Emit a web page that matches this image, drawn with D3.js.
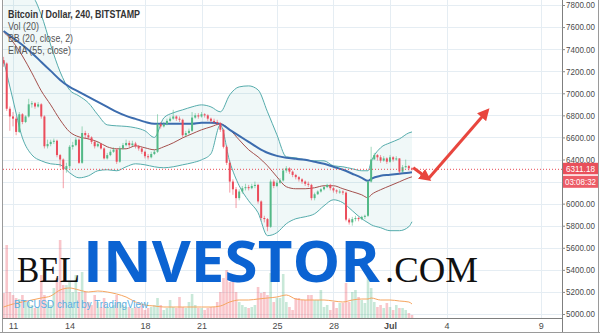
<!DOCTYPE html>
<html>
<head>
<meta charset="utf-8">
<script src="https://cdn.jsdelivr.net/npm/d3@7"></script>
<style>
  body { margin: 0; background: #fff; }
  svg { display: block; }
</style>
</head>
<body>
<script>
// 4h candles, Bitstamp BTC/USD, starting 10 Jun 12:00 UTC
var firstOpen = 7300;
var closes = [
  7270, 6860, 6790, 6770, 6650, 6810, 6740, 6790, 6900, 6910,
  6880, 6900, 6790, 6520, 6540, 6560, 6570, 6440, 6400, 6310,
  6340, 6515, 6530, 6580, 6370, 6640, 6620, 6600, 6560, 6520,
  6540, 6500, 6410, 6440, 6470, 6490, 6380, 6500, 6530, 6550,
  6530, 6545, 6520, 6500, 6470, 6430, 6420, 6450, 6470, 6720,
  6700, 6720, 6750, 6770, 6790, 6770, 6760, 6620, 6640, 6660,
  6780, 6800, 6790, 6810, 6800, 6770, 6750, 6740, 6730, 6670,
  6515, 6370, 6200, 6130, 6050, 6110, 6140, 6150, 6140, 6160,
  6170, 6020, 5870, 5860, 5790, 6200, 6160, 6190, 6210, 6300,
  6320, 6290, 6260, 6240, 6220, 6200, 6180, 6170, 6050, 6085,
  6110, 6130, 6150, 6170, 6140, 6120, 6110, 6110, 6100, 5855,
  5830, 5860, 5870, 5860, 5880, 5890, 6200, 6400, 6440, 6420,
  6390, 6410, 6380, 6420, 6400, 6410, 6290, 6330, 6340, 6320,
  6311.18
];
var highs = [
  7330, 7280, 6880, 6830, 6790, 6830, 6820, 6800, 6950, 6930,
  6920, 6920, 6910, 6800, 6580, 6580, 6590, 6580, 6450, 6410,
  6370, 6530, 6560, 6600, 6590, 6700, 6660, 6640, 6610, 6570,
  6560, 6550, 6510, 6460, 6490, 6510, 6500, 6520, 6550, 6580,
  6570, 6570, 6560, 6530, 6510, 6480, 6450, 6470, 6490, 6810,
  6740, 6740, 6770, 6790, 6850, 6800, 6790, 6770, 6660, 6680,
  6830, 6820, 6820, 6830, 6820, 6810, 6780, 6770, 6760, 6740,
  6680, 6530, 6390, 6220, 6150, 6130, 6160, 6180, 6170, 6180,
  6200, 6180, 6030, 5890, 5870, 6220, 6220, 6210, 6230, 6320,
  6340, 6330, 6300, 6270, 6250, 6230, 6210, 6200, 6180, 6100,
  6120, 6140, 6160, 6180, 6180, 6150, 6130, 6130, 6120, 6110,
  5870, 5880, 5890, 5880, 5890, 5900, 6210, 6515, 6460, 6450,
  6440, 6430, 6420, 6440, 6430, 6430, 6410, 6350, 6400, 6350,
  6330
];
var lows = [
  7240, 6840, 6660, 6700, 6620, 6640, 6720, 6730, 6780, 6870,
  6860, 6870, 6770, 6500, 6500, 6520, 6540, 6420, 6330, 6140,
  6280, 6320, 6490, 6520, 6360, 6360, 6590, 6580, 6540, 6500,
  6510, 6490, 6400, 6400, 6430, 6460, 6360, 6370, 6490, 6520,
  6510, 6520, 6500, 6480, 6450, 6410, 6400, 6410, 6440, 6460,
  6680, 6690, 6710, 6740, 6760, 6750, 6740, 6600, 6610, 6630,
  6650, 6770, 6770, 6780, 6780, 6750, 6730, 6720, 6710, 6650,
  6500, 6350, 6100, 6080, 5960, 6030, 6090, 6120, 6120, 6130,
  6140, 6000, 5850, 5830, 5750, 5780, 6140, 6150, 6180, 6200,
  6280, 6270, 6240, 6220, 6200, 6180, 6160, 6150, 6030, 6030,
  6080, 6100, 6120, 6140, 6120, 6100, 6090, 6090, 6080, 5840,
  5810, 5800, 5840, 5840, 5850, 5860, 5880, 6190, 6400, 6390,
  6370, 6380, 6360, 6370, 6380, 6390, 6270, 6280, 6320, 6300,
  6300
];
var volumes = [
  2500, 7300, 2600, 2300, 2000, 1900, 2300, 1600, 1600, 1300,
  1000, 1100, 4300, 2300, 1600, 1300, 3000, 4000, 7800, 3300,
  3300, 3600, 2600, 4300, 2600, 4600, 2600, 1600, 1300, 2300,
  1600, 1100, 2000, 1100, 1000, 1300, 2300, 1600, 1300, 1100,
  1100, 1000, 1100, 1000, 1300, 800, 1000, 1100, 1300, 2000,
  1300, 800, 1000, 1800, 1100, 1000, 2100, 1100, 1000, 1600,
  2400, 1300, 1000, 1000, 800, 1000, 1100, 1100, 1600, 2600,
  4000, 4800, 3600, 4200, 2600, 1600, 1300, 1100, 1000, 1100,
  1300, 3100, 2500, 2600, 2300, 4500, 1600, 2000, 2000, 4400,
  1600, 1100, 800, 2000, 2000, 1800, 1800, 2300, 2300, 1800,
  1800, 2800, 1100, 1300, 800, 1600, 1000, 1500, 1500, 3500,
  1600, 2600, 2800, 2100, 1800, 1500, 4100, 3000, 1600, 1100,
  1300, 1000, 1500, 1100, 800, 1300, 1000, 1000, 800, 500,
  300
];

// indicator readings, taken at these candle numbers
var bandIdx = [0, 3, 6, 9, 12, 15, 18, 21, 24, 27, 30, 33, 36, 39, 42, 45, 48, 51, 54, 57,
  60, 63, 66, 69, 72, 75, 78, 81, 84, 87, 90, 93, 96, 99, 102, 105, 108, 111, 114, 116,
  117, 120, 123, 126, 129, 130];
var bbUpper = [7880, 7900, 7900, 7880, 7710, 7438, 7194, 7031, 6976, 6913, 6805, 6714, 6705, 6700, 6687, 6660, 6600, 6777, 6823, 6850,
  6877, 6895, 6877, 6832, 6986, 7058, 7067, 7031, 6832, 6624, 6424, 6415, 6397, 6388, 6388, 6343, 6334, 6316, 6298, 6298,
  6379, 6506, 6551, 6587, 6641, 6650];
var bbMid = [7556, 7465, 7338, 7185, 7022, 6895, 6759, 6651, 6605, 6587, 6560, 6515, 6497, 6497, 6524, 6506, 6488, 6515, 6551, 6596,
  6633, 6669, 6696, 6723, 6669, 6578, 6488, 6424, 6343, 6243, 6153, 6135, 6135, 6144, 6162, 6162, 6135, 6108, 6080, 6053,
  6080, 6126, 6162, 6198, 6234, 6243];
var bbLower = [7302, 6940, 6596, 6442, 6388, 6361, 6352, 6280, 6234, 6252, 6298, 6307, 6298, 6334, 6361, 6352, 6334, 6325, 6334, 6352,
  6370, 6397, 6452, 6714, 6379, 6162, 6026, 5918, 5710, 5737, 5818, 5863, 5881, 5908, 5981, 6035, 6008, 5936, 5863, 5827,
  5809, 5782, 5755, 5755, 5791, 5836];
var ema55 = [7565, 7501, 7438, 7366, 7284, 7203, 7121, 7058, 7013, 6967, 6922, 6877, 6832, 6795, 6768, 6741, 6723, 6723, 6723, 6723,
  6723, 6732, 6732, 6723, 6669, 6614, 6560, 6506, 6461, 6433, 6415, 6406, 6397, 6379, 6361, 6334, 6307, 6271, 6234, 6207,
  6225, 6252, 6261, 6271, 6280, 6284];
var volMa = [1100, 1400, 1600, 1800, 2000, 2200, 2800, 3000, 2800, 2600, 2700, 2600, 2400, 2100, 1600, 1300, 1200, 1100, 1100, 1100,
  1100, 1100, 1100, 1200, 1600, 1800, 1800, 1900, 2000, 2100, 2300, 1900, 1800, 1800, 1800, 1700, 1600, 1800, 1900, 1900,
  2000, 1800, 1800, 1700, 1600, 1400];

var priceTicks = [5000, 5200, 5400, 5600, 5800, 6000, 6200, 6400, 6600, 6800, 7000, 7200, 7400, 7600, 7800];
var dateTicks = ["2018-06-11", "2018-06-14", "2018-06-18", "2018-06-21", "2018-06-25", "2018-06-28", "2018-07-01", "2018-07-04", "2018-07-09"];
var lastPrice = 6311.18;
var countdown = "03:08:32";

// hand-drawn arrow (candle number, price)
var arrowIdx = [130.4, 135.2, 153.9];
var arrowPrice = [6325, 6225, 6840];

var startTime = Date.UTC(2018, 5, 10, 12);
var barMs = 4 * 3600 * 1000;
function barTime(i) { return new Date(startTime + i * barMs); }

var plot = {left: 3, right: 562, top: 0, bottom: 318};
var upColor = "#53b987", downColor = "#eb4d5c";

var x = d3.scaleUtc()
    .domain([new Date(Date.UTC(2018, 5, 11)), new Date(Date.UTC(2018, 6, 1))])
    .range([13, 390]);

var y = d3.scaleLinear()
    .domain([5000, 7800])
    .range([314, 5]);

var yVol = d3.scaleLinear()
    .domain([0, 10000])
    .range([plot.bottom, plot.bottom - 100]);

var bars = closes.map(function(c, i) {
  var o = i === 0 ? firstOpen : closes[i - 1];
  return {
    t: barTime(i), o: o, c: c,
    h: Math.max(highs[i], o, c), l: Math.min(lows[i], o, c),
    v: volumes[i]
  };
});

var bands = bandIdx.map(function(b, k) {
  return {t: barTime(b), up: bbUpper[k], mid: bbMid[k], lo: bbLower[k], ema: ema55[k], vma: volMa[k]};
});

var svg = d3.select("body").append("svg")
    .attr("width", 600)
    .attr("height", 334)
    .style("font-family", "'Liberation Sans', Arial, sans-serif");

svg.append("rect").attr("width", 600).attr("height", 334).attr("fill", "#fff");

var defs = svg.append("defs");
defs.append("clipPath").attr("id", "clip").append("rect")
    .attr("x", plot.left).attr("y", plot.top)
    .attr("width", plot.right - plot.left).attr("height", plot.bottom - plot.top);

defs.append("marker")
    .attr("id", "head")
    .attr("viewBox", "0 0 10 10")
    .attr("refX", 7).attr("refY", 5)
    .attr("markerWidth", 4).attr("markerHeight", 4)
    .attr("orient", "auto")
  .append("path")
    .attr("d", "M0,0L10,5L0,10z")
    .attr("fill", "#e8463e");

var g = svg.append("g").attr("clip-path", "url(#clip)");

// grid
g.selectAll(".hgrid")
    .data(priceTicks)
  .enter().append("line")
    .attr("class", "hgrid")
    .attr("x1", plot.left).attr("x2", plot.right)
    .attr("y1", function(d) { return Math.round(y(d)) + 0.5; })
    .attr("y2", function(d) { return Math.round(y(d)) + 0.5; })
    .attr("stroke", "#e5edf3");

g.selectAll(".vgrid")
    .data(dateTicks)
  .enter().append("line")
    .attr("class", "vgrid")
    .attr("x1", function(d) { return Math.round(x(new Date(d))) + 0.5; })
    .attr("x2", function(d) { return Math.round(x(new Date(d))) + 0.5; })
    .attr("y1", plot.top).attr("y2", plot.bottom)
    .attr("stroke", "#e5edf3");

// volume
g.selectAll(".vol")
    .data(bars)
  .enter().append("rect")
    .attr("class", "vol")
    .attr("x", function(d) { return x(d.t) - 1.3; })
    .attr("width", 2.6)
    .attr("y", function(d) { return yVol(d.v); })
    .attr("height", function(d) { return yVol(0) - yVol(d.v); })
    .attr("fill", function(d) { return d.c >= d.o ? "rgba(83,185,135,0.32)" : "rgba(235,77,92,0.32)"; });

g.append("path")
    .datum(bands)
    .attr("fill", "none")
    .attr("stroke", "#f6a55f")
    .attr("stroke-width", 1)
    .attr("d", d3.line()
        .x(function(d) { return x(d.t); })
        .y(function(d) { return yVol(d.vma); })
        .curve(d3.curveMonotoneX));

// bollinger bands
g.append("path")
    .datum(bands)
    .attr("fill", "rgba(40,150,150,0.07)")
    .attr("d", d3.area()
        .x(function(d) { return x(d.t); })
        .y0(function(d) { return y(d.lo); })
        .y1(function(d) { return y(d.up); })
        .curve(d3.curveMonotoneX));

["up", "lo"].forEach(function(k) {
  g.append("path")
      .datum(bands)
      .attr("fill", "none")
      .attr("stroke", "#55acac")
      .attr("stroke-width", 1)
      .attr("d", d3.line()
          .x(function(d) { return x(d.t); })
          .y(function(d) { return y(d[k]); })
          .curve(d3.curveMonotoneX));
});

g.append("path")
    .datum(bands)
    .attr("fill", "none")
    .attr("stroke", "#a4504d")
    .attr("stroke-width", 1)
    .attr("d", d3.line()
        .x(function(d) { return x(d.t); })
        .y(function(d) { return y(d.mid); })
        .curve(d3.curveMonotoneX));

g.append("path")
    .datum(bands)
    .attr("fill", "none")
    .attr("stroke", "#3c6cae")
    .attr("stroke-width", 2)
    .attr("d", d3.line()
        .x(function(d) { return x(d.t); })
        .y(function(d) { return y(d.ema); })
        .curve(d3.curveMonotoneX));

// candles
g.selectAll(".wick")
    .data(bars)
  .enter().append("line")
    .attr("class", "wick")
    .attr("x1", function(d) { return x(d.t); })
    .attr("x2", function(d) { return x(d.t); })
    .attr("y1", function(d) { return y(d.h); })
    .attr("y2", function(d) { return y(d.l); })
    .attr("stroke", function(d) { return d.c >= d.o ? upColor : downColor; })
    .attr("stroke-opacity", 0.55)
    .attr("stroke-width", 1);

g.selectAll(".body")
    .data(bars)
  .enter().append("rect")
    .attr("class", "body")
    .attr("x", function(d) { return x(d.t) - 1; })
    .attr("width", 2)
    .attr("y", function(d) { return y(Math.max(d.o, d.c)); })
    .attr("height", function(d) { return Math.max(1, Math.abs(y(d.o) - y(d.c))); })
    .attr("fill", function(d) { return d.c >= d.o ? upColor : downColor; });

// last price line
g.append("line")
    .attr("x1", plot.left).attr("x2", plot.right)
    .attr("y1", y(lastPrice)).attr("y2", y(lastPrice))
    .attr("stroke", "#e84a55")
    .attr("stroke-width", 1)
    .attr("stroke-dasharray", "1,2");

// frame
svg.append("line").attr("x1", 2.5).attr("x2", 2.5).attr("y1", 0).attr("y2", 333).attr("stroke", "#9a9a9a");
svg.append("line").attr("x1", plot.right + 0.5).attr("x2", plot.right + 0.5).attr("y1", 0).attr("y2", 333).attr("stroke", "#7f7f7f");
svg.append("line").attr("x1", 2.5).attr("x2", plot.right).attr("y1", plot.bottom + 0.5).attr("y2", plot.bottom + 0.5).attr("stroke", "#7f7f7f");
svg.append("line").attr("x1", 0).attr("x2", 600).attr("y1", 332.5).attr("y2", 332.5).attr("stroke", "#9a9a9a");
svg.append("line").attr("x1", 598.5).attr("x2", 598.5).attr("y1", 0).attr("y2", 333).attr("stroke", "#9a9a9a");

// axes; the 6200 label sits under the live price tags, as on the original
var yAxis = svg.append("g")
    .attr("transform", "translate(" + plot.right + ",0)")
    .call(d3.axisRight(y).tickValues(priceTicks).tickFormat(d3.format(".2f")).tickSize(3).tickPadding(1));
yAxis.select(".domain").remove();
yAxis.selectAll("line").attr("stroke", "#8a8a8a");
yAxis.selectAll("text")
    .attr("fill", "#4a4a4a")
    .attr("textLength", 29)
    .attr("lengthAdjust", "spacingAndGlyphs")
    .style("font-size", "9px");
yAxis.selectAll(".tick").filter(function(d) { return d === 6200; }).select("text").remove();

var xAxis = svg.append("g")
    .attr("transform", "translate(0," + plot.bottom + ")")
    .call(d3.axisBottom(x)
        .tickValues(dateTicks.map(function(d) { return new Date(d); }))
        .tickFormat(function(d) { return d.getUTCDate() === 1 ? d3.utcFormat("%b")(d) : d3.utcFormat("%-d")(d); })
        .tickSize(0).tickPadding(5));
xAxis.select(".domain").remove();
xAxis.selectAll("text")
    .attr("fill", "#4a4a4a")
    .style("font-size", "9px")
    .style("font-weight", function(d) { return d.getUTCDate() === 1 ? "bold" : "normal"; });

// price labels on the scale
var ly = y(lastPrice);
svg.append("rect").attr("x", plot.right + 1).attr("y", ly - 6.5).attr("width", 35).attr("height", 11.5).attr("fill", "#e9505b");
svg.append("rect").attr("x", plot.right + 1).attr("y", ly + 6.5).attr("width", 35).attr("height", 12).attr("fill", "#ec5c67");
svg.append("text").attr("x", plot.right + 4).attr("y", ly + 3).text(d3.format(".2f")(lastPrice))
    .attr("textLength", 29).attr("lengthAdjust", "spacingAndGlyphs")
    .attr("fill", "#fff").style("font-size", "9px");
svg.append("text").attr("x", plot.right + 3).attr("y", ly + 16).text(countdown)
    .attr("textLength", 31).attr("lengthAdjust", "spacingAndGlyphs")
    .attr("fill", "#fff").style("font-size", "9px");

// legend
var legend = [
  {t: "Bitcoin / Dollar, 240, BITSTAMP", w: 132, b: true},
  {t: "Vol (20)", w: 31},
  {t: "BB (20, close, 2)", w: 65},
  {t: "EMA (55, close)", w: 63}
];
svg.selectAll(".legend")
    .data(legend)
  .enter().append("text")
    .attr("class", "legend")
    .attr("x", 8)
    .attr("y", function(d, i) { return 17.5 + i * 12.3; })
    .attr("textLength", function(d) { return d.w; })
    .attr("lengthAdjust", "spacingAndGlyphs")
    .attr("fill", function(d) { return d.b ? "#333" : "#555"; })
    .style("font-size", "10px")
    .style("font-weight", function(d) { return d.b ? "bold" : "normal"; })
    .text(function(d) { return d.t; });

// watermark
svg.append("text").attr("x", 14).attr("y", 308).attr("textLength", 134).attr("lengthAdjust", "spacingAndGlyphs")
    .attr("fill", "#5aaee2").style("font-size", "11px").text("BTCUSD chart by TradingView");
svg.append("text").attr("x", 17).attr("y", 282).attr("textLength", 63).attr("lengthAdjust", "spacingAndGlyphs")
    .attr("fill", "#111").style("font-family", "'Liberation Serif', serif").style("font-size", "36px").text("BEL");
svg.append("text").attr("x", 83).attr("y", 282).attr("textLength", 297).attr("lengthAdjust", "spacingAndGlyphs")
    .attr("fill", "#0b63d2").style("font-family", "'Open Sans', sans-serif").style("font-weight", "bold").style("font-size", "58px").text("INVESTOR");
svg.append("text").attr("x", 385).attr("y", 282).attr("textLength", 93).attr("lengthAdjust", "spacingAndGlyphs")
    .attr("fill", "#111").style("font-family", "'Liberation Serif', serif").style("font-size", "36px").text(".COM");

// arrow
var ap = arrowIdx.map(function(a, i) { return [x(barTime(a)), y(arrowPrice[i])]; });
[[ap[0], ap[1]], [ap[1], ap[2]]].forEach(function(seg) {
  svg.append("path")
      .attr("d", d3.line()(seg))
      .attr("stroke", "#e8463e")
      .attr("stroke-width", 3)
      .attr("fill", "none")
      .attr("marker-end", "url(#head)");
});
</script>
</body>
</html>
